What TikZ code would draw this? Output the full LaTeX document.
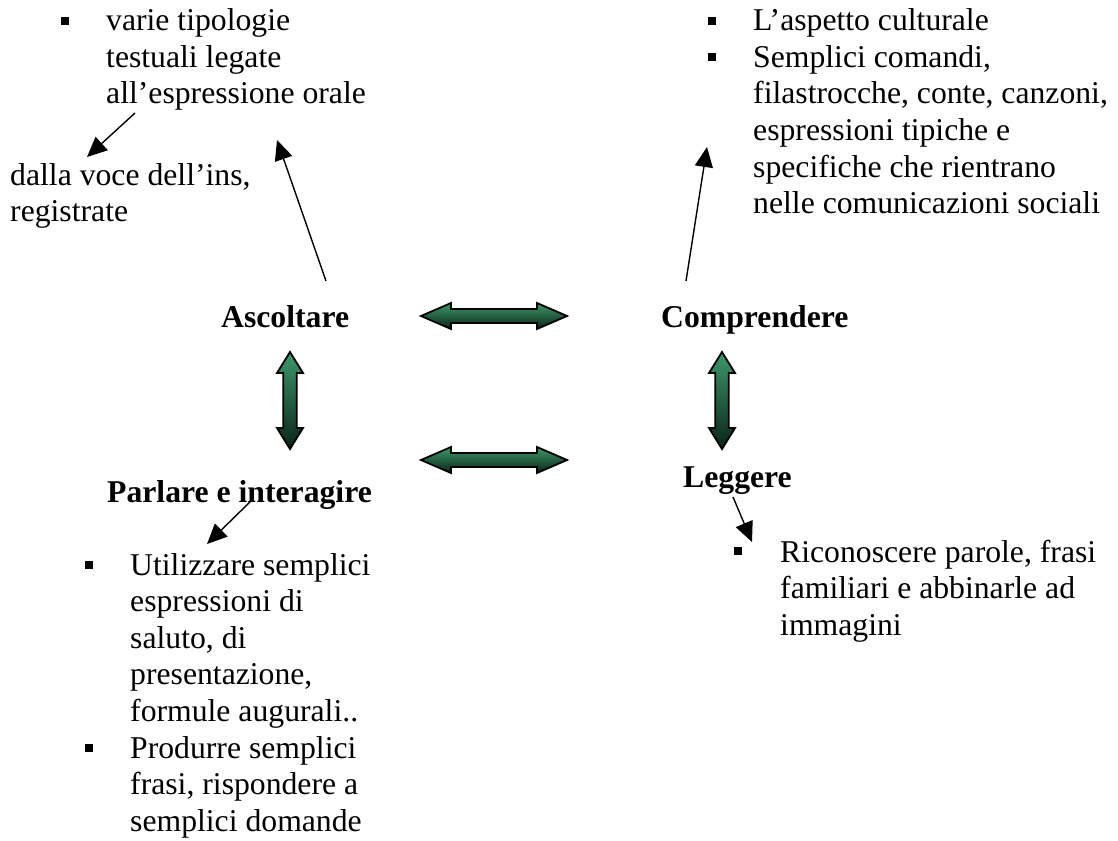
\documentclass[tikz,border=0pt]{standalone}
\usepackage{fontspec}
\setmainfont{Liberation Serif}
\usetikzlibrary{arrows.meta}
\definecolor{gtop}{RGB}{62,152,106}
\definecolor{gbot}{RGB}{10,36,24}
\newcommand\hdblarrow[2]{%
  \shade[barrow] (#1-73,#2) -- (#1-43,#2-13) -- (#1-43,#2-7) -- (#1+43,#2-7) -- (#1+43,#2-13)
    -- (#1+73,#2) -- (#1+43,#2+13) -- (#1+43,#2+7) -- (#1-43,#2+7) -- (#1-43,#2+13) -- cycle;}
\newcommand\vdblarrow[2]{%
  \shade[barrow] (#1,#2-48.5) -- (#1+13,#2-27.5) -- (#1+6.7,#2-27.5) -- (#1+6.7,#2+27.5) -- (#1+13,#2+27.5)
    -- (#1,#2+48.5) -- (#1-13,#2+27.5) -- (#1-6.7,#2+27.5) -- (#1-6.7,#2-27.5) -- (#1-13,#2-27.5) -- cycle;}
\begin{document}
\begin{tikzpicture}[x=1pt,y=-1pt,
  txt/.style={anchor=base west, inner sep=0pt, font=\fontsize{31.7}{36.6}\selectfont},
  btxt/.style={anchor=base west, inner sep=0pt, font=\fontsize{31.7}{36.6}\selectfont\bfseries},
  bul/.style={fill=black, minimum size=8pt, inner sep=0pt},
  lnk/.style={line width=1.4pt, -{Triangle[length=20pt,width=18pt]}},
  barrow/.style={draw=black, line width=1.8pt, top color=gtop, bottom color=gbot, line join=miter}]
\useasboundingbox (0,0) rectangle (1118,840);

% top left
\node[bul] (b1) at (65,21) {};
\node[txt] (l1) at (106,31) {varie tipologie};
\node[txt] (l2) at (106,67.5) {testuali legate};
\node[txt] (l3) at (106,104) {all’espressione orale};
\node[txt] (d1) at (10,185) {dalla voce dell’ins,};
\node[txt] (d2) at (10,221.6) {registrate};

% top right
\node[bul] (b2) at (712,21) {};
\node[bul] (b3) at (712,57.5) {};
\node[txt] (r1) at (753,31) {L’aspetto culturale};
\node[txt] (r2) at (753,67.5) {Semplici comandi,};
\node[txt] (r3) at (753,104) {filastrocche, conte, canzoni,};
\node[txt] (r4) at (753,140.5) {espressioni tipiche e};
\node[txt] (r5) at (753,177) {specifiche che rientrano};
\node[txt] (r6) at (753,213.5) {nelle comunicazioni sociali};

% main terms
\node[btxt] (asc) at (221,327) {Ascoltare};
\node[btxt] (com) at (661,327) {Comprendere};
\node[btxt] (par) at (107,502) {Parlare e interagire};
\node[btxt] (leg) at (683,487) {Leggere};

% bottom left
\node[bul] (b4) at (89,565) {};
\node[bul] (b5) at (89,748) {};
\node[txt] (p1) at (130,575) {Utilizzare semplici};
\node[txt] (p2) at (130,611.6) {espressioni di};
\node[txt] (p3) at (130,648.2) {saluto, di};
\node[txt] (p4) at (130,684.8) {presentazione,};
\node[txt] (p5) at (130,721.4) {formule augurali..};
\node[txt] (p6) at (130,758) {Produrre semplici};
\node[txt] (p7) at (130,794.6) {frasi, rispondere a};
\node[txt] (p8) at (130,831.2) {semplici domande};

% bottom right
\node[bul] (b6) at (738,551) {};
\node[txt] (g1) at (780,562) {Riconoscere parole, frasi};
\node[txt] (g2) at (780,598.6) {familiari e abbinarle ad};
\node[txt] (g3) at (780,635.2) {immagini};

% thin arrows
\coordinate (aS) at (326,281); \coordinate (aE) at (277,140);
\coordinate (cS) at (686,281); \coordinate (cE) at (707,147);
\coordinate (eS) at (135,113); \coordinate (eE) at (87,157);
\coordinate (pS) at (252,500); \coordinate (pE) at (207,544);
\coordinate (gS) at (733,497); \coordinate (gE) at (752,542);
\draw[lnk] (aS) -- (aE);
\draw[lnk] (cS) -- (cE);
\draw[lnk] (eS) -- (eE);
\draw[lnk] (pS) -- (pE);
\draw[lnk] (gS) -- (gE);

% block double arrows
\hdblarrow{494}{316}
\hdblarrow{494}{460}
\vdblarrow{290}{400.5}
\vdblarrow{722}{400.5}
\end{tikzpicture}
\end{document}
